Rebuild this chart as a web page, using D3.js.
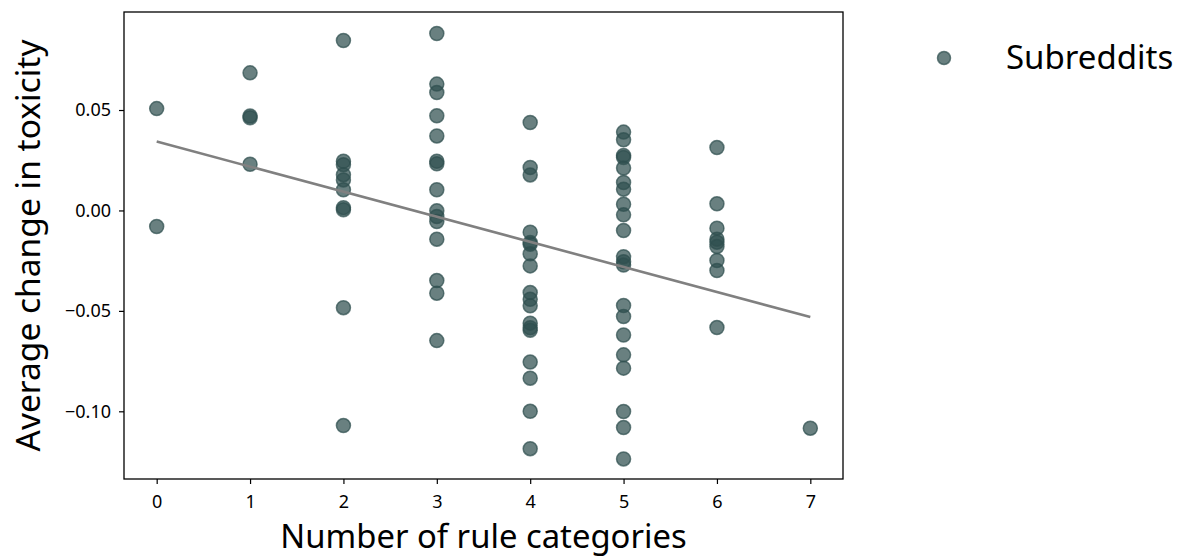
<!DOCTYPE html>
<html>
<head>
<meta charset="utf-8">
<script src="https://cdn.jsdelivr.net/npm/d3@7"></script>
<style>
  body { margin: 0; background: #fff; }
  text { font-family: "Noto Sans", Lato, sans-serif; fill: #000; }
</style>
</head>
<body>
<svg id="chart" width="1187" height="559"></svg>
<script>
// number of rule categories for each subreddit, and its avg toxicity change
const ruleCounts = [
  0, 0,
  1, 1, 1, 1,
  2, 2, 2, 2, 2, 2, 2, 2, 2, 2,
  3, 3, 3, 3, 3, 3, 3, 3, 3, 3, 3, 3, 3, 3, 3,
  4, 4, 4, 4, 4, 4, 4, 4, 4, 4, 4, 4, 4, 4, 4, 4, 4, 4,
  5, 5, 5, 5, 5, 5, 5, 5, 5, 5, 5, 5, 5, 5, 5, 5, 5, 5, 5, 5, 5,
  6, 6, 6, 6, 6, 6, 6, 6, 6,
  7
];
const toxChange = [
  0.0507, -0.0080,
  0.0685, 0.0470, 0.0462, 0.0230,
  0.0846, 0.0245, 0.0228, 0.0178, 0.0152, 0.0103, 0.0014, 0.0004, -0.0484, -0.1071,
  0.0881, 0.0629, 0.0587, 0.0471, 0.0371, 0.0245, 0.0232, 0.0103, -0.0002, -0.0030, -0.0055, -0.0143, -0.0349, -0.0412, -0.0648,
  0.0438, 0.0214, 0.0177, -0.0108, -0.0160, -0.0168, -0.0216, -0.0276, -0.0409, -0.0442, -0.0475, -0.0561, -0.0584, -0.0596, -0.0755, -0.0835, -0.1000, -0.1186,
  0.0390, 0.0352, 0.0274, 0.0264, 0.0211, 0.0139, 0.0106, 0.0031, -0.0022, -0.0100, -0.0230, -0.0255, -0.0272, -0.0473, -0.0528, -0.0620, -0.0719, -0.0785, -0.1001, -0.1081, -0.1237,
  0.0313, 0.0033, -0.0088, -0.0143, -0.0158, -0.0180, -0.0249, -0.0299, -0.0583,
  -0.1084
];

// fitted line endpoints
const trendX = [0, 7];
const trendY = [0.0343, -0.0531];

const xTicks = [0, 1, 2, 3, 4, 5, 6, 7];
const yTicks = [0.05, 0.00, -0.05, -0.10];

const svg = d3.select("#chart"),
    margin = {top: 12, right: 344, bottom: 80, left: 124},
    width = +svg.attr("width") - margin.left - margin.right,
    height = +svg.attr("height") - margin.top - margin.bottom;

const g = svg.append("g")
    .attr("transform", "translate(" + margin.left + "," + margin.top + ")");

const x = d3.scaleLinear().domain([-0.35, 7.35]).range([0, width]);
const y = d3.scaleLinear().domain([-0.1337, 0.0988]).range([height, 0]);

const dotColor = "#2f4f4f";

// axes
const fmt = d => d3.format(".2f")(d).replace("-", "\u2212");

g.append("g")
  .attr("transform", "translate(0," + height + ")")
  .call(d3.axisBottom(x).tickValues(xTicks).tickSize(5).tickPadding(11).tickFormat(d3.format("d")))
  .call(a => a.select(".domain").remove())
  .selectAll("text").style("font-size", "18px");

g.append("g")
  .call(d3.axisLeft(y).tickValues(yTicks).tickSize(5).tickPadding(8).tickFormat(fmt))
  .call(a => a.select(".domain").remove())
  .selectAll("text").style("font-size", "18px");

g.selectAll(".tick line").attr("stroke", "#000").attr("stroke-width", 1.2);

// frame
g.append("rect")
  .attr("width", width)
  .attr("height", height)
  .attr("fill", "none")
  .attr("stroke", "#000")
  .attr("stroke-width", 1.3);

// points
g.append("g")
  .selectAll("circle")
  .data(toxChange)
  .join("circle")
    .attr("cx", (d, i) => x(ruleCounts[i]))
    .attr("cy", d => y(d))
    .attr("r", 7)
    .attr("fill", dotColor)
    .attr("fill-opacity", 0.72)
    .attr("stroke", dotColor)
    .attr("stroke-opacity", 0.72)
    .attr("stroke-width", 1.5);

// trend line
g.append("path")
  .datum(trendX.map((d, i) => [d, trendY[i]]))
  .attr("d", d3.line().x(d => x(d[0])).y(d => y(d[1])))
  .attr("fill", "none")
  .attr("stroke", "#808080")
  .attr("stroke-width", 2.6);

// axis labels
svg.append("text")
  .attr("x", margin.left + x(3.5))
  .attr("y", 548)
  .attr("text-anchor", "middle")
  .style("font-size", "32.8px")
  .text("Number of rule categories");

svg.append("text")
  .attr("transform", "translate(40," + (margin.top + height / 2) + ") rotate(-90)")
  .attr("text-anchor", "middle")
  .style("font-size", "33.5px")
  .text("Average change in toxicity");

// legend
const legend = svg.append("g").attr("transform", "translate(944,58)");
legend.append("circle")
  .attr("r", 6.5)
  .attr("fill", dotColor)
  .attr("fill-opacity", 0.72)
  .attr("stroke", dotColor)
  .attr("stroke-opacity", 0.72)
  .attr("stroke-width", 1.5);
legend.append("text")
  .attr("x", 62)
  .attr("y", 11)
  .style("font-size", "33px")
  .text("Subreddits");
</script>
</body>
</html>
